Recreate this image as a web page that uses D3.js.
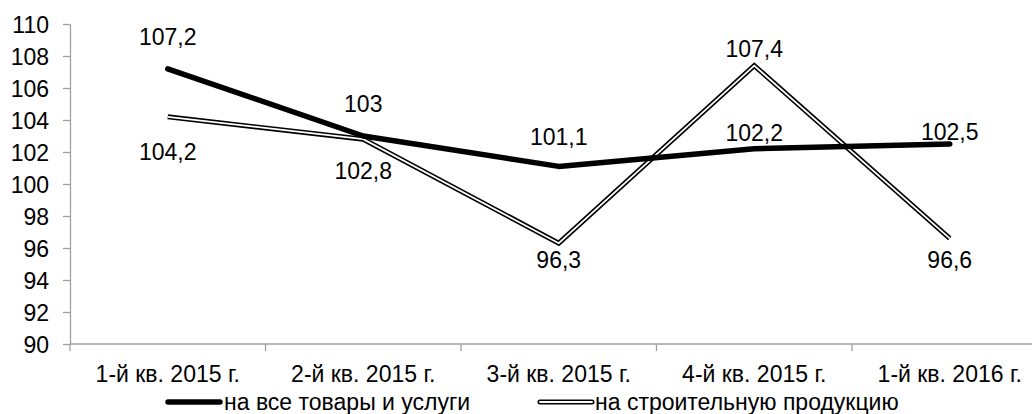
<!doctype html>
<html>
<head>
<meta charset="utf-8">
<title>Индексы цен</title>
<script src="https://cdn.jsdelivr.net/npm/d3@7"></script>
<style>
  body { margin: 0; background: #fff; }
  svg text { font-family: "Liberation Sans", Arial, sans-serif; font-size: 23px; fill: #000; }
  .axis path, .axis line { stroke: #a0a0a0; stroke-width: 1.3px; }
</style>
</head>
<body>
<svg width="1032" height="414"></svg>
<script>
var categories = ["1-й кв. 2015 г.", "2-й кв. 2015 г.", "3-й кв. 2015 г.", "4-й кв. 2015 г.", "1-й кв. 2016 г."];
var allGoods = [107.2, 103, 101.1, 102.2, 102.5];
var construction = [104.2, 102.8, 96.3, 107.4, 96.6];
var yTicks = [90, 92, 94, 96, 98, 100, 102, 104, 106, 108, 110];
var seriesNames = ["на все товары и услуги", "на строительную продукцию"];

// label offsets (px from point), picked by eye from the reference
var allGoodsLabelDy = [-32, -32, -29, -16, -12];
var constructionLabelDy = [35, 32, 17, -17, 22];

var svg = d3.select("svg");

var x = d3.scaleBand()
    .domain(categories)
    .range([70, 1047.5])
    .padding(0);

var y = d3.scaleLinear()
    .domain([90, 110])
    .range([344, 24]);

var cx = function(i) { return x(categories[i]) + x.bandwidth() / 2; };

// y axis
svg.append("g")
    .attr("class", "axis")
    .attr("transform", "translate(70,0)")
    .call(d3.axisLeft(y).tickValues(yTicks).tickSize(7).tickSizeOuter(0).tickPadding(14).tickFormat(d3.format("d")))
    .call(function(g) { g.selectAll("text").attr("dy", "0.35em").style("font-size", "23px").style("font-family", null); });

// x axis: line + boundary ticks
var xa = svg.append("g").attr("class", "axis");
xa.append("line")
    .attr("x1", 70).attr("x2", x.range()[1])
    .attr("y1", y(90)).attr("y2", y(90));
xa.selectAll(".bt")
    .data(categories.map(function(c) { return x(c); }).concat([x.range()[1]]))
    .enter().append("line")
    .attr("x1", function(d) { return d; }).attr("x2", function(d) { return d; })
    .attr("y1", y(90)).attr("y2", y(90) + 7);

svg.append("g")
    .selectAll("text")
    .data(categories)
    .enter().append("text")
    .attr("x", function(d) { return x(d) + x.bandwidth() / 2; })
    .attr("y", 382)
    .attr("text-anchor", "middle")
    .text(function(d) { return d; });

var line = d3.line()
    .x(function(d, i) { return cx(i); })
    .y(function(d) { return y(d); });

// construction: double line
svg.append("path")
    .datum(construction)
    .attr("d", line)
    .attr("fill", "none")
    .attr("stroke", "#000")
    .attr("stroke-width", 5)
    .attr("stroke-linejoin", "miter");
svg.append("path")
    .datum(construction)
    .attr("d", line)
    .attr("fill", "none")
    .attr("stroke", "#fff")
    .attr("stroke-width", 1.8)
    .attr("stroke-linejoin", "miter");

// all goods: thick line
svg.append("path")
    .datum(allGoods)
    .attr("d", line)
    .attr("fill", "none")
    .attr("stroke", "#000")
    .attr("stroke-width", 5.5)
    .attr("stroke-linecap", "round")
    .attr("stroke-linejoin", "round");

var fmt = function(v) { return String(v).replace(".", ","); };

function labels(data, dy) {
    svg.append("g")
        .selectAll("text")
        .data(data)
        .enter().append("text")
        .attr("x", function(d, i) { return cx(i); })
        .attr("y", function(d, i) { return y(d) + dy[i]; })
        .attr("dy", "0.35em")
        .attr("text-anchor", "middle")
        .text(fmt);
}
labels(allGoods, allGoodsLabelDy);
labels(construction, constructionLabelDy);

// legend
var lg = svg.append("g");
lg.append("line")
    .attr("x1", 168).attr("x2", 220).attr("y1", 402).attr("y2", 402)
    .attr("stroke", "#000").attr("stroke-width", 5.5).attr("stroke-linecap", "round");
lg.append("text").attr("x", 224).attr("y", 402).attr("dy", "0.35em").text(seriesNames[0]);

lg.append("line")
    .attr("x1", 540).attr("x2", 592).attr("y1", 402).attr("y2", 402)
    .attr("stroke", "#000").attr("stroke-width", 5).attr("stroke-linecap", "round");
lg.append("line")
    .attr("x1", 540).attr("x2", 592).attr("y1", 402).attr("y2", 402)
    .attr("stroke", "#fff").attr("stroke-width", 1.8).attr("stroke-linecap", "round");
lg.append("text").attr("x", 595).attr("y", 402).attr("dy", "0.35em").text(seriesNames[1]);
</script>
</body>
</html>
